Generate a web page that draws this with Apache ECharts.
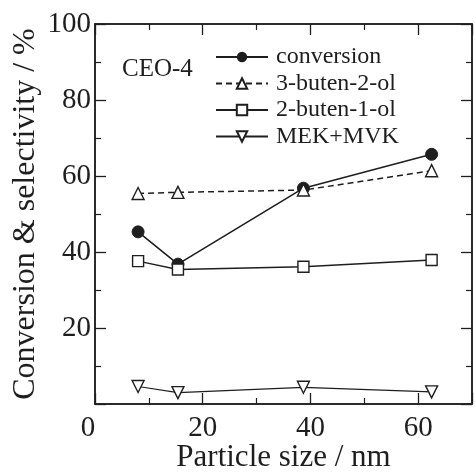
<!DOCTYPE html>
<html>
<head>
<meta charset="utf-8">
<script src="https://cdn.jsdelivr.net/npm/echarts@6/dist/echarts.min.js"></script>
<style>
  html, body { margin: 0; padding: 0; background: #fff; }
  #chart { width: 475px; height: 475px; }
</style>
</head>
<body>
<div id="chart"></div>
<script>
// Particle size (nm) of each catalyst sample
const particleSize = [8.0, 15.4, 38.7, 62.5];

// Conversion and product selectivities (%)
const conversion   = [45.3, 36.8, 56.8, 65.7];
const buten2ol     = [55.4, 55.7, 56.3, 61.4];   // 3-buten-2-ol
const buten1ol     = [37.6, 35.4, 36.1, 37.9];   // 2-buten-1-ol
const mekMvk       = [4.6, 3.0, 4.4, 3.2];       // MEK+MVK

const seriesNames  = ['conversion', '3-buten-2-ol', '2-buten-1-ol', 'MEK+MVK'];
const xTickLabels  = [0, 20, 40, 60];
const yTickLabels  = [20, 40, 60, 80, 100];

const INK = '#1e1e1e';
const FONT = '"Liberation Serif", "DejaVu Serif", serif';

function pairs(ys) {
  return particleSize.map((x, i) => [x, ys[i]]);
}

// Major and minor ticks point into the plotting frame; every axis stays on its own edge
function tickStyle() {
  return {
    axisLine: { show: true, onZero: false, lineStyle: { color: INK, width: 1.5 } },
    axisTick: { show: true, inside: true, length: 11, lineStyle: { color: INK, width: 1.3 } },
    minorTick: { show: true, splitNumber: 2, length: 6, lineStyle: { color: INK, width: 1.2 } },
    splitLine: { show: false },
    minorSplitLine: { show: false }
  };
}

const chart = echarts.init(document.getElementById('chart'), null, { renderer: 'canvas' });

chart.setOption({
  backgroundColor: '#fff',
  animation: false,
  grid: {
    left: 95, right: 3, top: 24, bottom: 71,
    containLabel: false, outerBoundsMode: 'none',
    show: true, borderColor: INK, borderWidth: 1.5
  },
  xAxis: [
    Object.assign(tickStyle(), {
      type: 'value', min: 0, max: 70, interval: 20, position: 'bottom',
      name: 'Particle size / nm', nameLocation: 'middle', nameGap: 38, nameMoveOverlap: false,
      nameTextStyle: { fontFamily: FONT, fontSize: 31, color: INK },
      axisLabel: {
        margin: 10, fontFamily: FONT, fontSize: 29, color: INK,
        formatter: v => {
          if (xTickLabels.indexOf(v) < 0) return '';
          return v === 0 ? '{o|' + v + '}' : String(v);
        },
        rich: { o: { fontFamily: FONT, fontSize: 29, color: INK, padding: [0, 14, 0, 0] } }
      }
    }),
    Object.assign(tickStyle(), {
      type: 'value', min: 0, max: 70, interval: 20, position: 'top',
      axisLabel: { show: false }
    })
  ],
  yAxis: [
    Object.assign(tickStyle(), {
      type: 'value', min: 0, max: 100, interval: 20, position: 'left',
      name: 'Conversion & selectivity / %', nameLocation: 'middle', nameGap: 53, nameMoveOverlap: false,
      nameTextStyle: { fontFamily: FONT, fontSize: 32, color: INK },
      axisLabel: {
        margin: 4, fontFamily: FONT, fontSize: 29, color: INK,
        formatter: v => (yTickLabels.indexOf(v) >= 0 ? String(v) : '')
      }
    }),
    Object.assign(tickStyle(), {
      type: 'value', min: 0, max: 100, interval: 20, position: 'right',
      axisLabel: { show: false }
    })
  ],
  legend: {
    orient: 'vertical', left: 215, top: 45, padding: 0,
    itemWidth: 52, itemHeight: 13, itemGap: 2.5,
    data: seriesNames,
    textStyle: { fontFamily: FONT, fontSize: 24, color: INK, lineHeight: 24, padding: [0, 0, 0, 3] }
  },
  graphic: [{
    type: 'text', left: 122, top: 57,
    style: { text: 'CEO-4', font: '25px ' + FONT, fill: INK }
  }],
  series: [
    {
      name: seriesNames[0], type: 'line', data: pairs(conversion),
      symbol: 'circle', symbolSize: 12,
      itemStyle: { color: INK, borderColor: INK },
      lineStyle: { color: INK, width: 1.6 }
    },
    {
      name: seriesNames[1], type: 'line', data: pairs(buten2ol),
      symbol: 'triangle', symbolSize: 12,
      itemStyle: { color: '#fff', borderColor: INK, borderWidth: 1.4 },
      lineStyle: { color: INK, width: 1.5, type: [6, 4] }
    },
    {
      name: seriesNames[2], type: 'line', data: pairs(buten1ol),
      symbol: 'rect', symbolSize: 11,
      itemStyle: { color: '#fff', borderColor: INK, borderWidth: 1.4 },
      lineStyle: { color: INK, width: 1.4 }
    },
    {
      name: seriesNames[3], type: 'line', data: pairs(mekMvk),
      symbol: 'triangle', symbolRotate: 180, symbolSize: 12,
      itemStyle: { color: '#fff', borderColor: INK, borderWidth: 1.4 },
      lineStyle: { color: INK, width: 1.2 }
    }
  ]
});
</script>
</body>
</html>
